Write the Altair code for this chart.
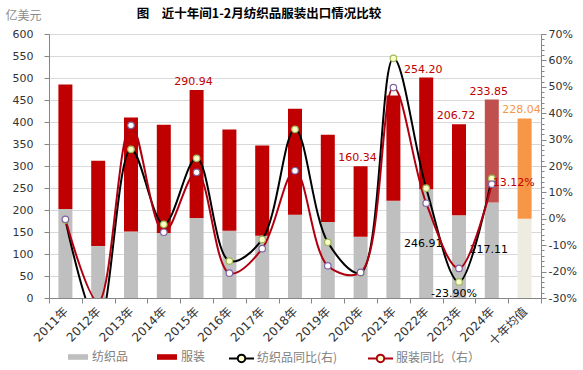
import altair as alt
import pandas as pd

# ---------------- data ----------------
cats = ["2011年", "2012年", "2013年", "2014年", "2015年", "2016年", "2017年", "2018年",
        "2019年", "2020年", "2021年", "2022年", "2023年", "2024年", "十年均值"]
textile = [202, 118, 151, 148, 182, 153, 141.6, 189, 173, 139, 221, 246.91, 187.9, 217.11, 180]
garment = [283, 194, 259, 246, 290.94, 230, 205, 241, 198, 160.34, 239, 254.20, 206.72, 233.85, 228.04]
textile_yoy = [-0.5, -40, 26.3, -2.1, 22.9, -16.0, -7.8, 33.9, -8.9, -20.5, 60.8, 11.6, -23.9, 15.3, None]
garment_yoy = [-0.2, -31.5, 35.4, -5.1, 17.6, -20.6, -11.3, 18.2, -17.8, -20.3, 49.7, 5.9, -18.8, 13.12, None]
top_label_cats = ["2015年", "2020年", "2022年", "2023年", "2024年", "十年均值"]
mid_label_cats = ["2022年", "2024年"]
pct_label_textile = ["2023年"]
pct_label_garment = ["2024年"]

S_T, S_G = "纺织品", "服装"
L_T, L_G = "纺织品同比(右)", "服装同比（右）"

NUM = "DejaVu Sans"
CJK = "Noto Sans CJK SC"
MIX = "DejaVu Sans, Noto Sans CJK SC"
AXC = "#868686"

bar_rows = []
for c, t, g in zip(cats, textile, garment):
    bar_rows.append({"cat": c, "series": S_T, "val": t, "ord": 0})
    bar_rows.append({"cat": c, "series": S_G, "val": g, "ord": 1})
bars_df = pd.DataFrame(bar_rows)

line_rows = []
for s, arr in [(L_T, textile_yoy), (L_G, garment_yoy)]:
    for c, v in zip(cats, arr):
        if v is not None:
            line_rows.append({"cat": c, "series": s, "pct": v})
lines_df = pd.DataFrame(line_rows)

top_df = pd.DataFrame([
    {"cat": c, "top": t + g, "label": f"{g:.2f}",
     "col": "#F79646" if c == "十年均值" else "#C00000"}
    for c, t, g in zip(cats, textile, garment) if c in top_label_cats])
mid_df = pd.DataFrame([
    {"cat": c, "mid": t / 2, "label": f"{t:.2f}"}
    for c, t in zip(cats, textile) if c in mid_label_cats])
pctT_df = pd.DataFrame([
    {"cat": c, "pct": v, "label": f"{v:.2f}%"}
    for c, v in zip(cats, textile_yoy) if c in pct_label_textile])
pctG_df = pd.DataFrame([
    {"cat": c, "pct": v, "label": f"{v:.2f}%"}
    for c, v in zip(cats, garment_yoy) if c in pct_label_garment])

# ---------------- scales / axes ----------------
x_axis = alt.Axis(title=None, labelAngle=-45, labelAlign="right", labelBaseline="middle",
                  labelFont=MIX, labelFontSize=12, labelColor="#333333", labelPadding=6,
                  tickBand="extent", tickSize=5, tickColor=AXC, domainColor=AXC, grid=False)
X = alt.X("cat:N", sort=cats, scale=alt.Scale(domain=cats, paddingInner=0, paddingOuter=0),
          axis=x_axis)

left_scale = alt.Scale(domain=[0, 600], nice=False, zero=True)
left_axis = alt.Axis(title="亿美元", titleAngle=0, titleX=-44, titleY=-19, titleAlign="left",
                     titleBaseline="middle", titleFont=CJK, titleFontSize=12,
                     titleFontWeight="normal", titleColor="#8C8C8C",
                     values=list(range(0, 601, 50)), labelFont=NUM, labelFontSize=11,
                     labelColor="#333333", labelPadding=11, tickSize=5, tickColor=AXC,
                     domainColor=AXC, grid=True, gridColor="#D9D9D9", gridWidth=1)

right_scale = alt.Scale(domain=[-30, 70], nice=False, zero=False)
right_axis = alt.Axis(title=None, orient="right", values=list(range(-30, 71, 2)),
                      labelExpr="datum.value % 10 == 0 ? datum.value + '%' : ''",
                      tickSize={"condition": {"test": "datum.value % 10 == 0", "value": 5}, "value": 3},
                      labelFont=NUM, labelFontSize=11, labelColor="#333333", labelPadding=2,
                      tickColor=AXC, domainColor=AXC, grid=False)

# ---------------- left group: bars ----------------
bar_fill = alt.Fill(
    "series:N",
    scale=alt.Scale(domain=[S_T, S_G], range=["#BFBFBF", "#C00000"]),
    legend=alt.Legend(title=None, orient="none", legendX=19, legendY=313, direction="horizontal",
                      symbolType="M-1,-0.28H1V0.28H-1Z", symbolSize=400, symbolStrokeWidth=0,
                      labelFont=CJK, labelFontSize=12, labelColor="#808080",
                      columnPadding=28, labelOffset=4),
    condition=[
        {"test": "datum.cat == '十年均值' && datum.series == '纺织品'", "value": "#EEECE1"},
        {"test": "datum.cat == '十年均值' && datum.series == '服装'", "value": "#F79646"},
        {"test": "datum.cat == '2024年' && datum.series == '服装'", "value": "#C0504D"},
    ],
)

bars = alt.Chart(bars_df).mark_bar(size=14).encode(
    x=X,
    y=alt.Y("val:Q", stack="zero", scale=left_scale, axis=left_axis),
    fill=bar_fill,
    order=alt.Order("ord:Q", sort="ascending"),
)

top_labels = alt.Chart(top_df).mark_text(baseline="bottom", dy=-3, dx=-3, font=NUM, fontSize=11).encode(
    x=X,
    y=alt.Y("top:Q", scale=left_scale, axis=left_axis),
    text="label:N",
    color=alt.Color("col:N", scale=None),
)

mid_labels = alt.Chart(mid_df).mark_text(baseline="middle", dx=-3, font=NUM, fontSize=11,
                                         color="#000000").encode(
    x=X,
    y=alt.Y("mid:Q", scale=left_scale, axis=left_axis),
    text="label:N",
)

left = alt.layer(bars, top_labels, mid_labels)

# ---------------- right group: lines ----------------
line_stroke = alt.Stroke(
    "series:N",
    scale=alt.Scale(domain=[L_T, L_G], range=["#000000", "#B00010"]),
    legend=alt.Legend(title=None, orient="none", legendX=179, legendY=310.5, direction="horizontal",
                      symbolType="M-1,0L-0.3,0M0.3,0L1,0M0.3,0A0.3,0.3,0,1,1,-0.3,0A0.3,0.3,0,1,1,0.3,0",
                      symbolSize=625, symbolStrokeWidth=2, symbolFillColor="#FFFFCC",
                      labelFont=CJK, labelFontSize=12, labelColor="#808080",
                      columnPadding=26, labelOffset=2),
)

Yr = alt.Y("pct:Q", scale=right_scale, axis=right_axis)

lines = alt.Chart(lines_df).mark_line(interpolate="catmull-rom", strokeWidth=2, clip=True).encode(
    x=X, y=Yr, stroke=line_stroke,
)

points = alt.Chart(lines_df).mark_point(filled=True, size=42, strokeWidth=1.2, opacity=1, clip=True).encode(
    x=X, y=Yr,
    fill=alt.condition(f"datum.series == '{L_T}'", alt.value("#FFFFCC"), alt.value("#FFFFFF")),
    stroke=alt.condition(f"datum.series == '{L_T}'", alt.value("#9BBB59"), alt.value("#8064A2")),
)

pctT = alt.Chart(pctT_df).mark_text(baseline="middle", dy=12, dx=-5, font=NUM, fontSize=11,
                                    color="#000000").encode(x=X, y=Yr, text="label:N")
pctG = alt.Chart(pctG_df).mark_text(align="left", baseline="middle", dx=1, dy=-1, font=NUM,
                                    fontSize=11, color="#C00000").encode(x=X, y=Yr, text="label:N")

right = alt.layer(lines, points, pctT, pctG)

chart = alt.layer(left, right).resolve_scale(y="independent").properties(
    width=492, height=264,
    padding={"left": 49, "top": 34, "right": 42, "bottom": 72},
    autosize=alt.AutoSizeParams(type="none"),
    title=alt.TitleParams("图\u3000近十年间1-2月纺织品服装出口情况比较", font=CJK, fontSize=12.5,
                          fontWeight="bold", color="#000000", anchor="middle", dx=-36, dy=15),
).configure_view(stroke=None).configure(background="#FFFFFF")

chart.save("out.html", embed_options={"renderer": "svg", "actions": False})
